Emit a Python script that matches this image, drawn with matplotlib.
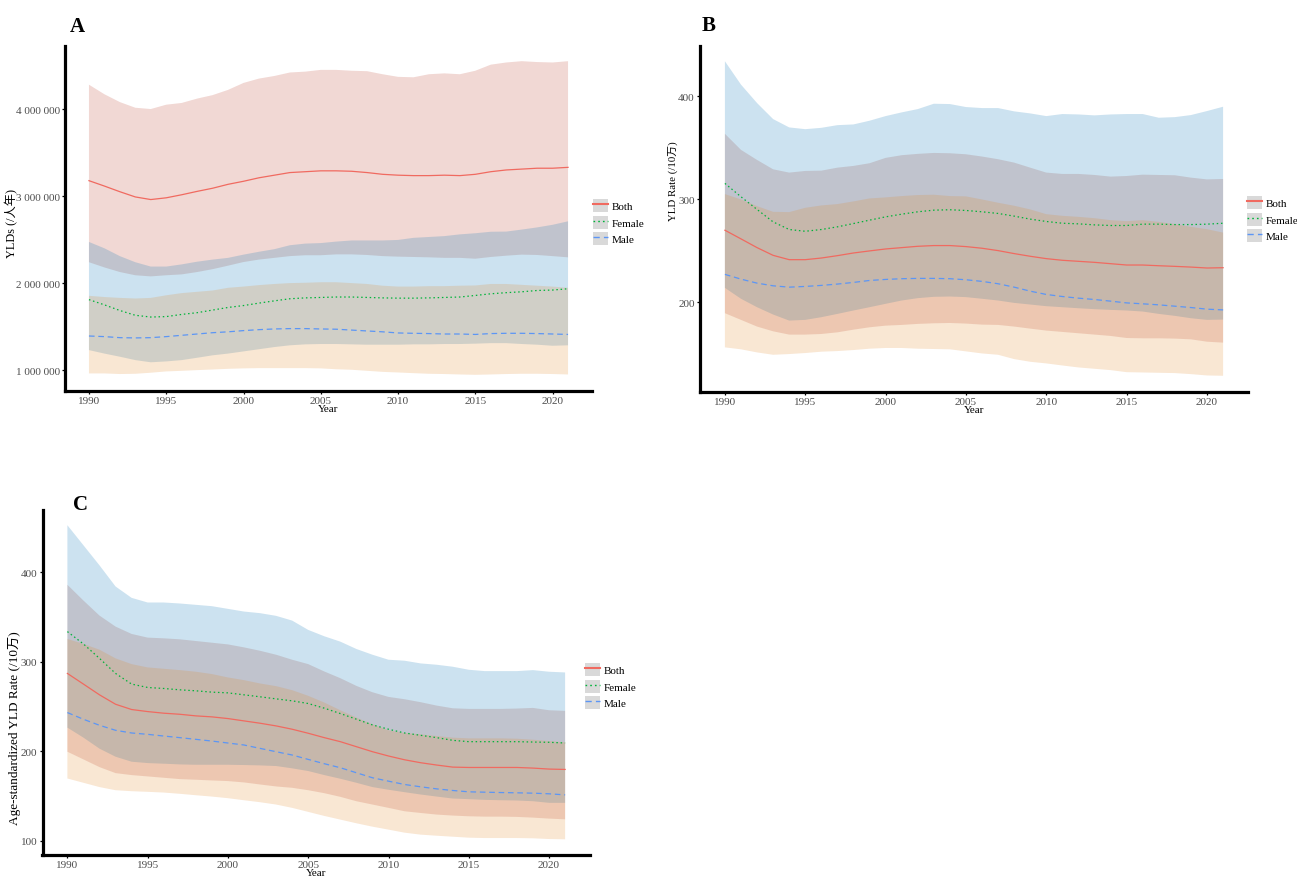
import matplotlib
matplotlib.use("Agg")
import matplotlib.pyplot as plt
from matplotlib.lines import Line2D
from matplotlib.patches import Patch
from matplotlib.legend_handler import HandlerTuple
from matplotlib.ticker import FuncFormatter

plt.rcParams["font.family"] = ["Liberation Serif", "Noto Sans CJK SC"]

years = list(range(1990, 2022))
groups = ["Both", "Female", "Male"]

# ---- Panel A: YLDs (person-years) ----
both_A = [3177000, 3115000, 3050000, 2990000, 2960000, 2980000, 3015000, 3054000, 3090000, 3135000,
          3170000, 3210000, 3240000, 3270000, 3280000, 3290000, 3290000, 3285000, 3270000, 3250000,
          3240000, 3235000, 3235000, 3240000, 3235000, 3250000, 3280000, 3300000, 3310000, 3320000,
          3320000, 3330000]
both_lo_A = [2240000, 2180000, 2127000, 2090000, 2077000, 2090000, 2100000, 2127000, 2160000, 2200000,
             2242000, 2270000, 2290000, 2310000, 2320000, 2320000, 2330000, 2330000, 2323000, 2310000,
             2304000, 2300000, 2296000, 2290000, 2290000, 2280000, 2300000, 2315000, 2327000, 2323000,
             2310000, 2296000]
both_hi_A = [4280000, 4170000, 4080000, 4015000, 4000000, 4050000, 4070000, 4120000, 4160000, 4220000,
             4300000, 4350000, 4380000, 4420000, 4430000, 4450000, 4450000, 4440000, 4435000, 4400000,
             4370000, 4365000, 4400000, 4410000, 4400000, 4440000, 4510000, 4535000, 4550000, 4540000,
             4535000, 4550000]
female_A = [1810000, 1750000, 1685000, 1630000, 1610000, 1615000, 1640000, 1660000, 1690000, 1720000,
            1742000, 1770000, 1796000, 1820000, 1830000, 1835000, 1840000, 1840000, 1835000, 1830000,
            1827000, 1827000, 1830000, 1835000, 1840000, 1858000, 1877000, 1890000, 1900000, 1915000,
            1920000, 1935000]
female_lo_A = [1230000, 1190000, 1154000, 1115000, 1090000, 1100000, 1115000, 1142000, 1170000, 1190000,
               1215000, 1240000, 1265000, 1285000, 1296000, 1300000, 1300000, 1296000, 1292000, 1292000,
               1292000, 1296000, 1296000, 1300000, 1300000, 1304000, 1310000, 1310000, 1300000, 1292000,
               1280000, 1285000]
female_hi_A = [2473000, 2400000, 2310000, 2240000, 2190000, 2190000, 2215000, 2246000, 2270000, 2290000,
               2327000, 2360000, 2390000, 2435000, 2454000, 2460000, 2477000, 2490000, 2490000, 2490000,
               2496000, 2520000, 2530000, 2540000, 2560000, 2573000, 2590000, 2592000, 2615000, 2640000,
               2670000, 2710000]
male_A = [1392000, 1385000, 1373000, 1370000, 1373000, 1385000, 1400000, 1415000, 1430000, 1440000,
          1454000, 1465000, 1473000, 1477000, 1477000, 1473000, 1470000, 1460000, 1450000, 1440000,
          1427000, 1423000, 1420000, 1415000, 1415000, 1410000, 1420000, 1423000, 1423000, 1420000,
          1415000, 1410000]
male_lo_A = [962000, 962000, 955000, 958000, 970000, 985000, 992000, 1000000, 1007000, 1015000,
             1020000, 1023000, 1023000, 1023000, 1023000, 1020000, 1010000, 1004000, 992000, 980000,
             973000, 965000, 958000, 955000, 950000, 946000, 950000, 955000, 958000, 958000,
             955000, 950000]
male_hi_A = [1854000, 1840000, 1830000, 1823000, 1830000, 1860000, 1885000, 1900000, 1915000, 1946000,
             1960000, 1977000, 1990000, 2000000, 2004000, 2010000, 2010000, 2000000, 1990000, 1970000,
             1960000, 1960000, 1965000, 1965000, 1970000, 1973000, 1990000, 1990000, 1980000, 1970000,
             1960000, 1946000]

# ---- Panel B: crude YLD rate (per 100 000) ----
both_B = [269.9, 261.5, 253.0, 245.5, 241.3, 241.3, 242.9, 245.2, 247.8, 249.8, 251.7, 253.0, 254.3, 255.0,
          255.0, 254.0, 252.4, 250.1, 247.2, 244.6, 242.3, 240.7, 239.7, 238.7, 237.4, 236.1, 236.1, 235.4,
          234.8, 234.1, 233.2, 233.5]
both_lo_B = [189.3, 182.8, 176.3, 171.7, 168.5, 168.5, 169.1, 170.7, 173.3, 175.6, 177.2, 177.9, 178.9, 179.5,
             179.8, 179.2, 178.2, 177.9, 176.3, 174.3, 172.4, 171.1, 169.8, 168.5, 167.2, 165.2, 164.9, 164.9,
             164.6, 163.9, 161.6, 160.7]
both_hi_B = [363.6, 348.0, 338.2, 329.1, 325.9, 327.5, 327.8, 330.7, 332.4, 335.0, 340.2, 342.8, 344.1, 345.0,
             344.7, 343.7, 341.5, 338.9, 335.6, 330.7, 325.9, 324.6, 324.6, 323.6, 322.0, 322.6, 323.9, 323.6,
             323.3, 321.0, 319.3, 319.7]
female_B = [315.4, 302.4, 290.1, 278.0, 270.6, 268.9, 270.6, 273.2, 276.4, 279.7, 282.9, 285.5, 287.8, 289.4,
            289.8, 289.1, 287.8, 286.2, 283.6, 280.7, 278.4, 276.7, 276.1, 275.1, 274.5, 274.5, 275.8, 275.8,
            275.4, 275.4, 275.8, 276.7]
female_lo_B = [213.9, 203.3, 195.1, 188.0, 182.1, 182.8, 185.4, 188.6, 191.9, 195.1, 198.4, 201.6, 203.9, 205.2,
               205.5, 204.9, 203.3, 201.6, 199.3, 197.7, 196.1, 195.1, 194.1, 193.2, 192.5, 191.9, 190.9, 188.6,
               186.7, 184.4, 182.8, 183.1]
female_hi_B = [434.1, 411.4, 393.5, 377.9, 369.8, 368.1, 369.4, 372.0, 372.7, 376.3, 380.8, 384.4, 387.6, 392.8,
               392.5, 389.6, 388.6, 388.6, 385.4, 383.4, 380.8, 382.8, 382.4, 381.5, 382.4, 382.8, 382.8, 379.2,
               379.8, 381.8, 385.7, 389.9]
male_B = [227.0, 222.4, 218.5, 215.9, 214.6, 215.3, 216.3, 217.6, 219.2, 221.1, 222.1, 222.8, 223.1, 223.1,
          222.8, 221.8, 220.2, 217.9, 214.6, 210.7, 207.5, 205.5, 203.9, 202.6, 201.0, 199.3, 198.4, 197.4,
          196.1, 194.8, 193.2, 192.5]
male_lo_B = [156.1, 154.2, 151.2, 148.9, 149.6, 150.6, 151.9, 152.5, 153.5, 154.8, 155.5, 155.5, 154.8, 154.5,
             154.2, 152.2, 150.2, 148.9, 144.7, 142.1, 140.5, 138.5, 136.6, 135.3, 134.0, 132.0, 131.7, 131.4,
             131.1, 130.1, 128.8, 128.5]
male_hi_B = [305.0, 299.8, 293.3, 287.8, 287.5, 291.7, 294.0, 295.3, 297.9, 300.8, 301.8, 303.1, 304.1, 304.4,
             303.1, 302.8, 299.8, 296.6, 293.7, 290.1, 285.5, 283.9, 282.9, 281.6, 279.7, 278.7, 279.7, 278.0,
             275.8, 273.2, 270.9, 267.6]

# ---- Panel C: age-standardized YLD rate (per 100 000) ----
both_C = [286.8, 274.9, 262.9, 252.4, 246.5, 244.2, 242.4, 241.2, 239.4, 238.3, 236.4, 233.8, 231.2, 228.2,
          224.5, 220.0, 215.1, 210.6, 205.0, 199.4, 194.6, 190.4, 187.1, 184.5, 182.2, 181.8, 181.8, 181.8,
          181.8, 181.1, 180.0, 179.6]
both_lo_C = [199.4, 190.8, 182.2, 175.5, 173.3, 171.8, 170.3, 168.8, 168.1, 167.3, 166.6, 165.1, 162.8, 160.6,
             159.1, 156.4, 153.1, 149.0, 144.1, 140.4, 136.7, 132.9, 131.0, 129.2, 128.1, 127.3, 126.9, 126.9,
             126.6, 125.8, 124.7, 123.9]
both_hi_C = [385.8, 368.2, 351.4, 339.1, 330.9, 326.8, 326.0, 324.9, 323.0, 321.1, 319.2, 315.9, 312.1, 307.7,
             302.1, 297.2, 289.0, 281.5, 272.9, 265.8, 260.6, 258.0, 254.7, 250.9, 247.9, 247.2, 247.2, 247.2,
             247.6, 248.3, 245.7, 245.0]
female_C = [333.5, 319.7, 303.6, 286.8, 274.9, 271.1, 270.0, 268.5, 267.4, 265.9, 265.1, 262.9, 260.7, 258.4,
            256.2, 253.2, 248.0, 242.0, 235.7, 229.3, 224.5, 220.3, 217.7, 215.1, 212.1, 210.6, 210.6, 210.6,
            210.6, 210.2, 209.9, 209.1]
female_lo_C = [226.3, 215.1, 202.8, 193.8, 188.2, 186.7, 186.0, 185.2, 184.8, 184.8, 184.8, 184.5, 184.1, 183.4,
               180.8, 177.8, 173.3, 169.2, 164.7, 159.9, 156.9, 154.2, 151.6, 149.3, 147.1, 146.4, 145.6, 145.2,
               144.9, 144.1, 142.3, 142.3]
female_hi_C = [452.3, 429.9, 407.5, 383.9, 371.2, 366.0, 366.0, 364.9, 363.4, 361.9, 358.9, 355.9, 354.1, 351.1,
               345.8, 335.4, 328.3, 322.3, 314.1, 307.7, 302.1, 301.0, 298.0, 296.5, 294.3, 290.9, 289.4, 289.4,
               289.4, 290.5, 288.7, 287.9]
male_C = [243.1, 235.6, 228.9, 223.3, 220.3, 218.8, 216.9, 215.1, 213.2, 211.3, 209.1, 206.9, 203.1, 199.4,
          195.7, 190.8, 186.0, 181.5, 175.9, 170.3, 166.5, 162.8, 160.2, 157.9, 156.1, 154.6, 154.2, 153.8,
          153.5, 153.1, 152.4, 151.2]
male_lo_C = [169.5, 164.7, 159.9, 156.4, 155.3, 154.6, 153.8, 152.4, 150.8, 149.3, 147.5, 145.2, 143.0, 140.4,
             136.7, 132.2, 127.7, 123.6, 119.5, 115.7, 112.4, 109.0, 106.8, 105.6, 104.5, 103.4, 103.0, 103.0,
             103.0, 102.7, 101.9, 101.6]
male_hi_C = [325.3, 319.7, 313.3, 303.6, 297.2, 293.5, 292.0, 290.5, 288.7, 286.1, 282.3, 279.3, 275.6, 272.6,
             268.1, 261.8, 254.3, 245.7, 237.5, 230.0, 223.3, 220.3, 218.8, 216.9, 215.1, 214.3, 214.3, 214.3,
             213.9, 212.8, 211.3, 209.9]

x_ticks = [1990, 1995, 2000, 2005, 2010, 2015, 2020]
y_ticks_A = [1000000, 2000000, 3000000, 4000000]
y_ticks_B = [200, 300, 400]
y_ticks_C = [100, 200, 300, 400]

# ---- styling ----
fill_colors = {"Both": "#BC3C29", "Female": "#0072B5", "Male": "#E18727"}
line_styles = {
    "Both": dict(color="#F06A60", linestyle="-"),
    "Female": dict(color="#00B33A", dashes=(1.2, 2.2)),
    "Male": dict(color="#5C96F5", dashes=(4.5, 3.0)),
}
LW = 0.9
W, H = 1297, 878
fig = plt.figure(figsize=(W / 100, H / 100), dpi=100)


def px_box(left, right, top, bottom):
    return [left / W, 1 - bottom / H, (right - left) / W, (bottom - top) / H]


def space_thousands(v, _pos):
    return f"{int(round(v)):,}".replace(",", " ")


def draw_panel(rect, series, yticks, ylabel, ylabel_xy, ylabel_size, letter, letter_xy,
               legend_xy, fmt=None):
    ax = fig.add_axes(px_box(*rect))
    for g in groups:
        lo, mid, hi = series[g]
        ax.fill_between(years, lo, hi, facecolor=fill_colors[g], alpha=0.2,
                        edgecolor="none", linewidth=0)
    for g in groups:
        lo, mid, hi = series[g]
        ax.plot(years, mid, linewidth=LW, **line_styles[g])
    ax.set_xlim(1990 - 1.55, 2021 + 1.55)
    ax.margins(y=0.05)
    ax.set_xticks(x_ticks)
    ax.set_yticks(yticks)
    if fmt is not None:
        ax.yaxis.set_major_formatter(FuncFormatter(fmt))
    for s in ("top", "right"):
        ax.spines[s].set_visible(False)
    for s in ("left", "bottom"):
        ax.spines[s].set_linewidth(2.3)
        ax.spines[s].set_color("black")
    ax.tick_params(axis="both", length=2.5, width=0.9, color="black",
                   labelsize=8, labelcolor="#4D4D4D", pad=1.2)
    ax.set_xlabel("Year", fontsize=8, labelpad=-0.5, color="black")
    ax.set_ylabel(ylabel, fontsize=ylabel_size, color="black")
    ax.yaxis.label.set_va("center")
    ax.yaxis.set_label_coords(ylabel_xy[0] / W, 1 - ylabel_xy[1] / H, transform=fig.transFigure)
    fig.text(letter_xy[0] / W, 1 - letter_xy[1] / H, letter, fontsize=15, fontweight="bold",
             ha="left", va="baseline")
    handles = [(Patch(facecolor="#D9D9D9", edgecolor="none"),
                Line2D([], [], linewidth=1.5 if g == "Both" else 1.0, **line_styles[g])) for g in groups]
    fig.legend(handles, groups, handler_map={tuple: HandlerTuple(ndivide=1, pad=0)},
               loc="upper left", bbox_to_anchor=(legend_xy[0] / W, 1 - legend_xy[1] / H),
               frameon=False, borderpad=0, borderaxespad=0, fontsize=8,
               handlelength=1.35, handleheight=1.45, handletextpad=0.35, labelspacing=0.3)
    return ax


draw_panel((65, 592, 46.5, 391.5),
           {"Both": (both_lo_A, both_A, both_hi_A),
            "Female": (female_lo_A, female_A, female_hi_A),
            "Male": (male_lo_A, male_A, male_hi_A)},
           y_ticks_A, "YLDs (/人年)", (12, 224), 8.8, "A", (70, 32), (593, 200), fmt=space_thousands)

draw_panel((700, 1248, 46.5, 392.5),
           {"Both": (both_lo_B, both_B, both_hi_B),
            "Female": (female_lo_B, female_B, female_hi_B),
            "Male": (male_lo_B, male_B, male_hi_B)},
           y_ticks_B, "YLD Rate (/10万)", (673, 181), 7.8, "B", (702, 31), (1247, 197))

draw_panel((42.5, 590, 510.5, 856),
           {"Both": (both_lo_C, both_C, both_hi_C),
            "Female": (female_lo_C, female_C, female_hi_C),
            "Male": (male_lo_C, male_C, male_hi_C)},
           y_ticks_C, "Age-standardized YLD Rate (/10万)", (15, 728), 9.5, "C", (73, 510), (585, 664))

fig.savefig("out.png", dpi=100)
